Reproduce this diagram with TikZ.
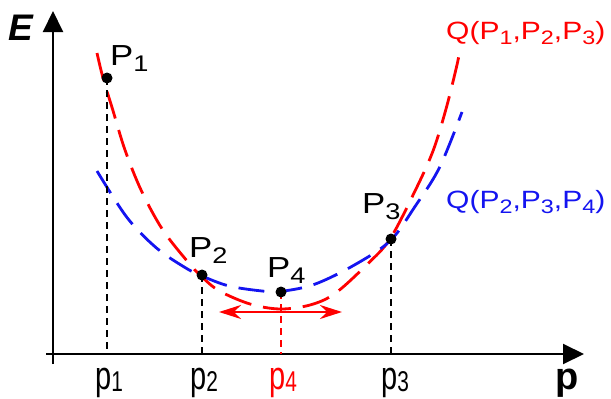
\documentclass[tikz,border=0pt]{standalone}
\usepackage{fontspec}
\setmainfont{Liberation Sans}
\newfontfamily\widefont{Liberation Sans}[FakeStretch=1.2]
\usetikzlibrary{arrows.meta}
\newcommand{\lsub}[1]{\raisebox{-0.22em}{\scalebox{0.78}{#1}}}
\newcommand{\asub}[1]{\raisebox{-0.06em}{\scalebox{0.72}{#1}}}
\definecolor{qred}{RGB}{255,0,0}
\definecolor{qblue}{RGB}{20,20,240}
\begin{document}
\begin{tikzpicture}[x=1pt,y=-1pt,
  axis/.style={line width=2pt, -{Triangle[length=21pt,width=20pt]}},
  guide/.style={line width=1.4pt, dash pattern=on 7pt off 5pt},
  redcurve/.style={qred, line width=2.8pt, dash pattern=on 28pt off 12pt},
  bluecurve/.style={qblue, line width=2.8pt, dash pattern=on 26pt off 12pt},
  dot/.style={circle, fill=black, inner sep=0pt, minimum size=11pt},
  plabel/.style={anchor=base west, inner sep=0pt, font=\widefont\fontsize{29pt}{30pt}\selectfont},
  qlabel/.style={anchor=base west, inner sep=0pt, font=\widefont\fontsize{25pt}{26pt}\selectfont},
  alabel/.style={anchor=base west, inner sep=0pt, font=\fontsize{29pt}{30pt}\selectfont},
  shift arrow/.style={qred, line width=2.5pt,
    {Stealth[length=22pt,width=14pt]}-{Stealth[length=22pt,width=14pt]}},
]
\useasboundingbox (0,0) rectangle (611,399);

% axes
\coordinate (xs) at (46,354);
\coordinate (xe) at (584,354);
\coordinate (ys) at (53,364);
\coordinate (ye) at (53,11);
\draw[axis] (xs) -- (xe);
\draw[axis] (ys) -- (ye);
\node[anchor=base west, inner sep=0pt, font=\fontsize{37pt}{38pt}\selectfont\bfseries\itshape] (E) at (8,40) {E};
\node[anchor=base west, inner sep=0pt, font=\fontsize{38pt}{39pt}\selectfont\bfseries] (pax) at (555,389) {p};

% curves
\draw[redcurve] plot[smooth, tension=0.55] coordinates {
  (97,53) (103,78) (112.5,109) (125,150) (141.5,191) (162.5,229.5) (187.5,261.5)
  (202,277) (219.5,291) (250,304) (280,309) (310,305) (335,293.5) (367.5,264)
  (390,239) (415,191) (433,151) (446,109) (456.5,67) (460,50)};
\draw[bluecurve] plot[smooth, tension=0.55] coordinates {
  (97,171) (127,217.5) (156.5,248) (185,267.5) (202,276) (229,286) (262,291)
  (280,291.5) (314,284.5) (353.5,265.5) (390,241) (415,206.5) (439.5,167.5) (462,112)};

% points
\coordinate (P1) at (107,78);
\coordinate (P2) at (202,275);
\coordinate (P4) at (281,292);
\coordinate (P3) at (391,239);
\coordinate (a1) at (107,354);
\coordinate (a2) at (202,354);
\coordinate (a4) at (281,354);
\coordinate (a3) at (391,354);

\draw[guide] (P1) -- (a1);
\draw[guide] (P2) -- (a2);
\draw[guide, qred] (P4) -- (a4);
\draw[guide] (P3) -- (a3);

% shift arrow
\coordinate (sl) at (219,312);
\coordinate (sr) at (342,312);
\draw[shift arrow] (sl) -- (sr);

\node[dot] (d1) at (P1) {};
\node[dot] (d2) at (P2) {};
\node[dot] (d4) at (P4) {};
\node[dot] (d3) at (P3) {};

% point labels
\node[plabel] (l1) at (110,65) {P\lsub{1}};
\node[plabel] (l2) at (189,257) {P\lsub{2}};
\node[plabel] (l4) at (267,277) {P\lsub{4}};
\node[plabel] (l3) at (362,213) {P\lsub{3}};

% curve labels
\node[qlabel, text=qred] (qr) at (446,39) {Q(P\lsub{1},P\lsub{2},P\lsub{3})};
\node[qlabel, text=qblue] (qb) at (446,208) {Q(P\lsub{2},P\lsub{3},P\lsub{4})};

% axis labels
\node[alabel] (t1) at (95,389) {\scalebox{1}[1.37]{p\asub{1}}};
\node[alabel] (t2) at (190,389) {\scalebox{1}[1.37]{p\asub{2}}};
\node[alabel, text=qred] (t4) at (269,389) {\scalebox{1}[1.37]{p\asub{4}}};
\node[alabel] (t3) at (381,389) {\scalebox{1}[1.37]{p\asub{3}}};
\end{tikzpicture}
\end{document}
